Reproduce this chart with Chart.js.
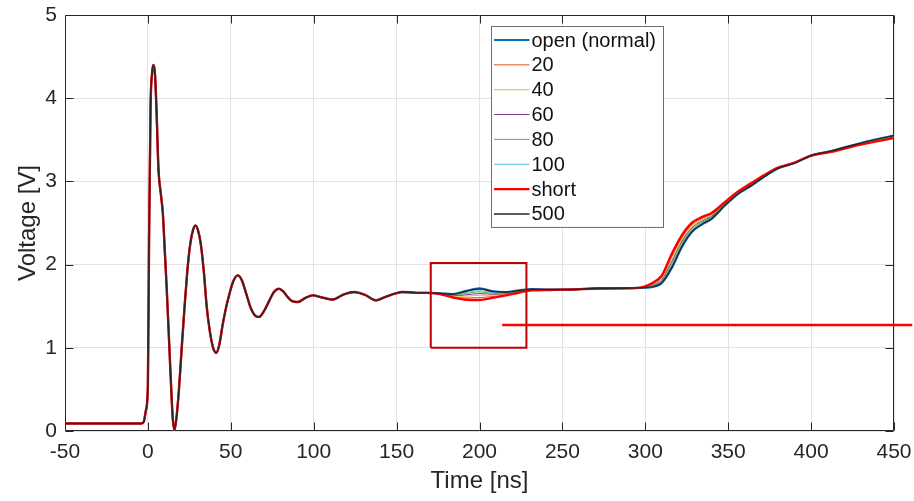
<!DOCTYPE html>
<html>
<head>
<meta charset="utf-8">
<script src="https://cdn.jsdelivr.net/npm/chart.js@4"></script>
<style>
  html, body { margin: 0; padding: 0; background: #fff; }
</style>
</head>
<body>
<canvas id="voltageChart" width="914" height="501"></canvas>
<script>
// shared part of all traces (ringing after the edge), time in ns, voltage in V
const tHead = [-50, -40, -30, -20, -10, -4, -2.5, -1.2, 0, 0.7, 1.6, 2.5, 3.4, 4.3, 5.2, 6.4, 7.8, 9, 10.2, 11.4,
  12.8, 14.1, 15, 16, 17, 18.7, 20.4, 22.1, 23.6, 25.1, 27, 28.7, 30.4, 32.1, 33.8, 35.5, 37.5, 39.5, 41.2, 43,
  45.2, 47, 49.2, 51.5, 54.2, 56.7, 59.3, 62, 64.5, 66.9, 70, 73.3, 76, 79, 81.5, 84.3, 87, 90.4, 95, 99.4,
  105, 111.4, 118, 124.5, 131, 137.6, 143, 149.6, 153.4, 159, 164];
const vHead = [0.09, 0.09, 0.09, 0.09, 0.09, 0.09, 0.11, 0.25, 0.55, 2.3, 3.9, 4.3, 4.40, 4.28, 3.85, 3.14, 2.85, 2.62, 2.16, 1.69,
  1.07, 0.49, 0.15, 0.01, 0.12, 0.49, 1.0, 1.49, 1.88, 2.18, 2.40, 2.47, 2.40, 2.22, 1.9, 1.49, 1.18, 0.99, 0.94, 1.03,
  1.29, 1.47, 1.65, 1.80, 1.87, 1.81, 1.65, 1.48, 1.39, 1.37, 1.44, 1.57, 1.67, 1.71, 1.68, 1.61, 1.56, 1.55, 1.60, 1.63,
  1.605, 1.58, 1.64, 1.67, 1.635, 1.57, 1.61, 1.655, 1.67, 1.665, 1.66];

// where the traces split apart
const tTail = [168, 176, 184, 192, 200, 208, 216, 224, 232, 242, 255, 270, 285, 296, 304, 310, 316, 322, 328, 334,
  340, 348, 356, 364, 372, 380, 390, 400, 412, 425, 438, 450];
const vOpen = [1.66, 1.655, 1.645, 1.685, 1.715, 1.68, 1.67, 1.69, 1.705, 1.70, 1.70, 1.715, 1.715, 1.72, 1.73, 1.78, 1.96, 2.21, 2.39, 2.48,
  2.55, 2.71, 2.85, 2.95, 3.06, 3.155, 3.22, 3.31, 3.365, 3.435, 3.50, 3.55];
const v20 = [1.66, 1.647, 1.613, 1.599, 1.603, 1.616, 1.638, 1.67, 1.693, 1.696, 1.70, 1.711, 1.715, 1.72, 1.766, 1.852, 2.096, 2.322, 2.478, 2.552,
  2.606, 2.742, 2.874, 2.974, 3.076, 3.163, 3.224, 3.31, 3.357, 3.423, 3.48, 3.526];
const v40 = [1.66, 1.649, 1.621, 1.621, 1.631, 1.632, 1.646, 1.675, 1.696, 1.697, 1.70, 1.712, 1.715, 1.72, 1.757, 1.834, 2.062, 2.294, 2.456, 2.534,
  2.592, 2.734, 2.868, 2.968, 3.072, 3.161, 3.223, 3.31, 3.359, 3.426, 3.485, 3.532];
const v60 = [1.66, 1.65, 1.627, 1.637, 1.652, 1.644, 1.652, 1.679, 1.698, 1.698, 1.70, 1.713, 1.715, 1.72, 1.75, 1.82, 2.037, 2.273, 2.44, 2.52,
  2.582, 2.728, 2.864, 2.964, 3.069, 3.16, 3.222, 3.31, 3.361, 3.428, 3.489, 3.537];
const v80 = [1.66, 1.652, 1.633, 1.653, 1.673, 1.656, 1.658, 1.683, 1.70, 1.698, 1.70, 1.713, 1.715, 1.72, 1.744, 1.807, 2.011, 2.252, 2.423, 2.507,
  2.571, 2.722, 2.859, 2.959, 3.066, 3.158, 3.222, 3.31, 3.362, 3.43, 3.493, 3.541];
const v100 = [1.66, 1.653, 1.637, 1.664, 1.687, 1.664, 1.662, 1.685, 1.702, 1.699, 1.70, 1.714, 1.715, 1.72, 1.739, 1.798, 1.994, 2.238, 2.412, 2.498,
  2.564, 2.718, 2.856, 2.956, 3.064, 3.157, 3.221, 3.31, 3.363, 3.432, 3.495, 3.544];
const vShort = [1.66, 1.645, 1.605, 1.578, 1.575, 1.60, 1.63, 1.665, 1.69, 1.695, 1.70, 1.71, 1.715, 1.72, 1.775, 1.87, 2.13, 2.35, 2.50, 2.57,
  2.62, 2.75, 2.88, 2.98, 3.08, 3.165, 3.225, 3.31, 3.355, 3.42, 3.475, 3.52];
const v500 = [1.66, 1.655, 1.643, 1.68, 1.708, 1.676, 1.668, 1.689, 1.704, 1.70, 1.70, 1.715, 1.715, 1.72, 1.732, 1.785, 1.969, 2.217, 2.396, 2.485,
  2.554, 2.712, 2.852, 2.952, 3.061, 3.156, 3.22, 3.31, 3.365, 3.434, 3.499, 3.549];

const seriesLabels = ['open (normal)', '20', '40', '60', '80', '100', 'short', '500'];
const seriesTails = [vOpen, v20, v40, v60, v80, v100, vShort, v500];
const seriesColors = ['#0072BD', '#D95319', '#EDB120', '#7E2F8E', '#77AC30', '#4DBEEE', '#FF0000', '#262626'];
const seriesWidths = [2.2, 1, 1, 1, 1, 1, 2.4, 1.4];

// highlight box and marker line (data units)
const boxT = [170.6, 170.6, 228.3, 228.3, 170.6];
const boxV = [1.0, 2.02, 2.02, 1.0, 1.0];
const markT = [213.7, 461];
const markV = [1.274, 1.274];

const xTicks = { min: -50, max: 450, step: 50 };
const yTicks = { min: 0, max: 5, step: 1 };

const FONT = "'Liberation Sans', Arial, Helvetica, sans-serif";
const INK = '#262626';

function toPoints(xs, ys) {
  return xs.map((x, i) => ({ x: x, y: ys[i] }));
}

const datasets = seriesLabels.map((label, i) => ({
  label: label,
  data: toPoints(tHead, vHead).concat(toPoints(tTail, seriesTails[i])),
  borderColor: seriesColors[i],
  borderWidth: seriesWidths[i],
  pointRadius: 0,
  cubicInterpolationMode: 'monotone',
  inLegend: true,
  order: seriesLabels.length - i + 2   // later series on top, like the original plot
}));

datasets.push({
  label: 'box',
  data: toPoints(boxT, boxV),
  borderColor: '#C00000',
  borderWidth: 2,
  pointRadius: 0,
  tension: 0,
  order: 1
});
datasets.push({
  label: 'marker',
  data: toPoints(markT, markV),
  borderColor: '#FF0000',
  borderWidth: 2.5,
  pointRadius: 0,
  tension: 0,
  clip: false,
  order: 0
});

// axes box with inward ticks on all four sides
const frame = {
  id: 'frame',
  beforeDatasetsDraw(chart) {
    const { ctx, chartArea: a, scales: { x, y } } = chart;
    const L = Math.round(a.left) + 0.5, R = Math.round(a.right) - 0.5;
    const T = Math.round(a.top) + 0.5, B = Math.round(a.bottom) - 0.5;
    const tl = 8;
    ctx.save();
    ctx.strokeStyle = INK;
    ctx.lineWidth = 1;
    ctx.beginPath();
    ctx.rect(L, T, R - L, B - T);
    x.ticks.forEach(t => {
      const px = Math.round(x.getPixelForValue(t.value)) + 0.5;
      ctx.moveTo(px, B); ctx.lineTo(px, B - tl);
      ctx.moveTo(px, T); ctx.lineTo(px, T + tl);
    });
    y.ticks.forEach(t => {
      const py = Math.round(y.getPixelForValue(t.value)) + 0.5;
      ctx.moveTo(L, py); ctx.lineTo(L + tl, py);
      ctx.moveTo(R, py); ctx.lineTo(R - tl, py);
    });
    ctx.stroke();
    ctx.restore();
  }
};

// legend box inside the plot, upper middle
const legendBox = {
  id: 'legendBox',
  afterDraw(chart) {
    const ctx = chart.ctx;
    const items = chart.data.datasets.filter(d => d.inLegend);
    const left = 491.5, top = 26.5, w = 172, rowH = 24.85, firstY = 40;
    const h = rowH * (items.length - 1) + 2 * (firstY - top);
    ctx.save();
    ctx.fillStyle = '#ffffff';
    ctx.fillRect(left, top, w, h);
    ctx.strokeStyle = '#6e6e6e';
    ctx.lineWidth = 1;
    ctx.strokeRect(left, top, w, h);
    ctx.font = '20px ' + FONT;
    ctx.textBaseline = 'middle';
    ctx.textAlign = 'left';
    items.forEach((d, i) => {
      const cy = firstY + i * rowH;
      ctx.strokeStyle = d.borderColor;
      ctx.lineWidth = d.borderWidth;
      ctx.beginPath();
      ctx.moveTo(left + 2.5, cy);
      ctx.lineTo(left + 38, cy);
      ctx.stroke();
      ctx.fillStyle = '#111111';
      ctx.fillText(d.label, left + 40, cy + 1);
    });
    ctx.restore();
  }
};

new Chart(document.getElementById('voltageChart').getContext('2d'), {
  type: 'line',
  data: { datasets: datasets },
  options: {
    responsive: false,
    animation: false,
    events: [],
    layout: { padding: { left: 0, right: 20, top: 15, bottom: 0 } },
    plugins: {
      legend: { display: false },
      tooltip: { enabled: false }
    },
    scales: {
      x: {
        type: 'linear',
        min: xTicks.min,
        max: xTicks.max,
        afterFit: scale => { scale.height = 70; scale.paddingLeft = 0; scale.paddingRight = 0; },
        ticks: {
          stepSize: xTicks.step,
          color: INK,
          font: { family: FONT, size: 21 },
          padding: 9,
          maxRotation: 0
        },
        grid: { color: '#e3e3e3', drawTicks: false },
        border: { display: false },
        title: {
          display: true,
          text: 'Time [ns]',
          color: INK,
          font: { family: FONT, size: 24 },
          padding: { top: 0, bottom: 5 }
        }
      },
      y: {
        type: 'linear',
        min: yTicks.min,
        max: yTicks.max,
        afterFit: scale => { scale.width = 65; scale.paddingTop = 0; scale.paddingBottom = 0; },
        ticks: {
          stepSize: yTicks.step,
          color: INK,
          font: { family: FONT, size: 21 },
          padding: 8
        },
        grid: { color: '#e3e3e3', drawTicks: false },
        border: { display: false },
        title: {
          display: true,
          text: 'Voltage [V]',
          color: INK,
          font: { family: FONT, size: 24 },
          padding: { top: 14, bottom: 0 }
        }
      }
    }
  },
  plugins: [frame, legendBox]
});
</script>
</body>
</html>
